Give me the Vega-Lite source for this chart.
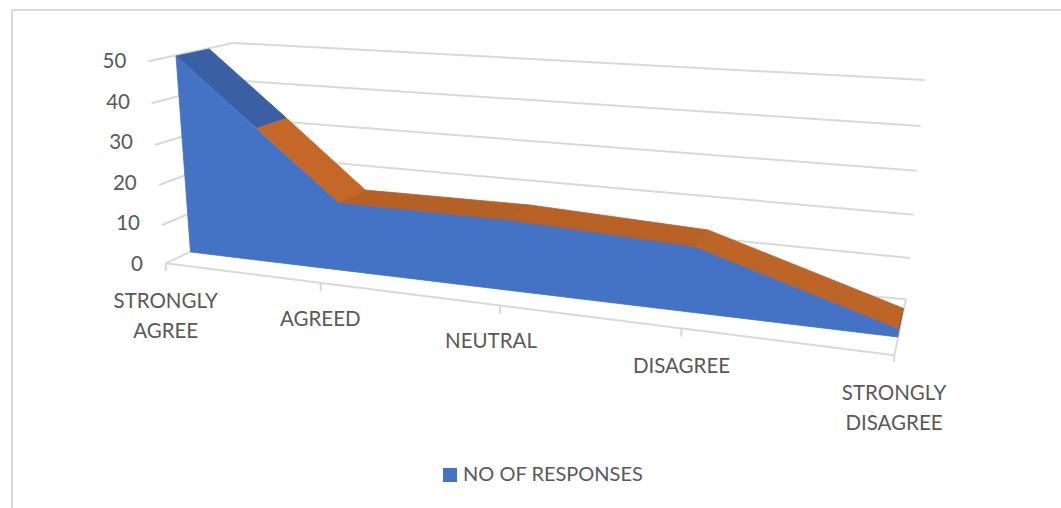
{
  "$schema": "https://vega.github.io/schema/vega-lite/v6.json",
  "width": 1061,
  "height": 508,
  "padding": 0,
  "autosize": "none",
  "background": "white",
  "config": {"view": {"stroke": null}, "text": {"font": "Lato"}},
  "datasets": {
    "frontFace": [
      {"series": "NO OF RESPONSES", "category": "STRONGLY AGREE", "step": 1, "across": 176, "up": 51.48},
      {"series": "NO OF RESPONSES", "category": "AGREED", "step": 2, "across": 338.7, "up": 15.2},
      {"series": "NO OF RESPONSES", "category": "NEUTRAL", "step": 3, "across": 510, "up": 10.91},
      {"series": "NO OF RESPONSES", "category": "DISAGREE", "step": 4, "across": 695, "up": 4.36},
      {"series": "NO OF RESPONSES", "category": "STRONGLY DISAGREE", "step": 5, "across": 898.7, "up": -15.84},
      {"series": "NO OF RESPONSES", "category": "floor right", "step": 6, "across": 897.5, "up": -17.73},
      {"series": "NO OF RESPONSES", "category": "floor left", "step": 7, "across": 190.5, "up": 3.2}
    ],
    "topFaces": [
      {"surface": "a", "step": 1, "across": 176, "up": 51.48},
      {"surface": "a", "step": 2, "across": 209.3, "up": 53.2},
      {"surface": "a", "step": 3, "across": 286.7, "up": 36.13},
      {"surface": "a", "step": 4, "across": 256.7, "up": 33.67},
      {"surface": "b", "step": 1, "across": 256.7, "up": 33.67},
      {"surface": "b", "step": 2, "across": 286.7, "up": 36.13},
      {"surface": "b", "step": 3, "across": 365.3, "up": 18.47},
      {"surface": "b", "step": 4, "across": 338.7, "up": 15.2},
      {"surface": "c", "step": 1, "across": 338.7, "up": 15.2},
      {"surface": "c", "step": 2, "across": 365.3, "up": 18.47},
      {"surface": "c", "step": 3, "across": 530, "up": 14.78},
      {"surface": "c", "step": 4, "across": 510, "up": 10.91},
      {"surface": "d", "step": 1, "across": 510, "up": 10.91},
      {"surface": "d", "step": 2, "across": 530, "up": 14.78},
      {"surface": "d", "step": 3, "across": 708.3, "up": 8.62},
      {"surface": "d", "step": 4, "across": 695, "up": 4.36},
      {"surface": "e", "step": 1, "across": 695, "up": 4.36},
      {"surface": "e", "step": 2, "across": 708.3, "up": 8.62},
      {"surface": "e", "step": 3, "across": 903.3, "up": -10.67},
      {"surface": "e", "step": 4, "across": 898.7, "up": -15.84},
      {"surface": "f", "step": 1, "across": 898.7, "up": -15.84},
      {"surface": "f", "step": 2, "across": 903.3, "up": -10.67},
      {"surface": "f", "step": 3, "across": 897.5, "up": -17.73}
    ],
    "gridLines": [
      {"name": "back 50", "a": 233, "b": 54.68, "a2": 925, "b2": 45.57},
      {"name": "back 40", "a": 236, "b": 45.44, "a2": 920.7, "b2": 34.24},
      {"name": "back 30", "a": 240, "b": 36.08, "a2": 917, "b2": 23.23},
      {"name": "back 20", "a": 245, "b": 27.09, "a2": 913.7, "b2": 12.39},
      {"name": "back 10", "a": 250, "b": 17.98, "a2": 910, "b2": 1.72},
      {"name": "back 0", "a": 250, "b": 6.16, "a2": 906, "b2": -8.45},
      {"name": "side 50", "a": 148.3, "b": 50.17, "a2": 233, "b2": 54.68},
      {"name": "side 40", "a": 151.7, "b": 39.83, "a2": 236, "b2": 45.44},
      {"name": "side 30", "a": 155, "b": 29.56, "a2": 240, "b2": 36.08},
      {"name": "side 20", "a": 159, "b": 19.7, "a2": 200, "b2": 23.45},
      {"name": "side 10", "a": 162, "b": 9.85, "a2": 200, "b2": 13.79},
      {"name": "side 0", "a": 165.7, "b": 0.42, "a2": 200, "b2": 4.36},
      {"name": "floor front", "a": 165.7, "b": 0.42, "a2": 894.3, "b2": -22.24},
      {"name": "floor right", "a": 906, "b": -8.45, "a2": 894.3, "b2": -22.24},
      {"name": "tick end", "a": 894.3, "b": -22.24, "a2": 894, "b2": -23.89},
      {"name": "tick 1", "a": 165.7, "b": 0.42, "a2": 165.7, "b2": -1.48},
      {"name": "tick 2", "a": 320.7, "b": -4.41, "a2": 320.7, "b2": -6.4},
      {"name": "tick 3", "a": 500, "b": -9.98, "a2": 500, "b2": -11.95},
      {"name": "tick 4", "a": 681.3, "b": -15.62, "a2": 681.3, "b2": -17.59},
      {"name": "frame left", "a": 12, "b": 62.81, "a2": 12, "b2": -59.85},
      {"name": "frame top", "a": 12, "b": 62.81, "a2": 1061, "b2": 62.81}
    ],
    "valueLabels": [
      {"tick": 50, "across": 126.3},
      {"tick": 40, "across": 130},
      {"tick": 30, "across": 133},
      {"tick": 20, "across": 136.7},
      {"tick": 10, "across": 140},
      {"tick": 0, "across": 143}
    ],
    "categoryLabels": [
      {"label": "STRONGLY", "across": 165.7, "up": -9.09},
      {"label": "AGREE", "across": 165.7, "up": -16.48},
      {"label": "AGREED", "across": 320.3, "up": -13.43},
      {"label": "NEUTRAL", "across": 491, "up": -19.02},
      {"label": "DISAGREE", "across": 681.5, "up": -25},
      {"label": "STRONGLY", "across": 894, "up": -31.75},
      {"label": "DISAGREE", "across": 894, "up": -39.04}
    ]
  },
  "encoding": {
    "x": {"type": "quantitative", "axis": null, "scale": {"domain": [0, 1061], "nice": false, "zero": false}},
    "y": {"type": "quantitative", "axis": null, "scale": {"domain": [-59.85, 65.27], "nice": false, "zero": false}}
  },
  "layer": [
    {
      "data": {"name": "gridLines"},
      "mark": {"type": "rule", "color": "#d9d9d9", "strokeWidth": 2},
      "encoding": {
        "x": {"field": "a", "type": "quantitative"},
        "y": {"field": "b", "type": "quantitative"},
        "x2": {"field": "a2"},
        "y2": {"field": "b2"}
      }
    },
    {
      "data": {"name": "topFaces"},
      "mark": {"type": "line", "filled": true, "interpolate": "linear-closed", "strokeWidth": 0.8},
      "encoding": {
        "x": {"field": "across", "type": "quantitative"},
        "y": {"field": "up", "type": "quantitative"},
        "order": {"field": "step"},
        "color": {
          "field": "surface",
          "type": "nominal",
          "legend": null,
          "scale": {
            "domain": ["a", "b", "c", "d", "e", "f"],
            "range": ["#3a5fa5", "#c56827", "#b56024", "#b76125", "#bd6526", "#7a6050"]
          }
        },
        "stroke": {
          "field": "surface",
          "type": "nominal",
          "legend": null,
          "scale": {
            "domain": ["a", "b", "c", "d", "e", "f"],
            "range": ["#3a5fa5", "#c56827", "#b56024", "#b76125", "#bd6526", "#7a6050"]
          }
        }
      }
    },
    {
      "data": {"name": "frontFace"},
      "mark": {"type": "line", "filled": true, "interpolate": "linear-closed", "stroke": "#4472c4", "strokeWidth": 0.8},
      "encoding": {
        "x": {"field": "across", "type": "quantitative"},
        "y": {"field": "up", "type": "quantitative"},
        "order": {"field": "step"},
        "color": {
          "field": "series",
          "type": "nominal",
          "scale": {"domain": ["NO OF RESPONSES"], "range": ["#4472c4"]},
          "legend": {
            "orient": "none",
            "legendX": 440,
            "legendY": 465,
            "title": null,
            "symbolType": "square",
            "symbolSize": 196,
            "symbolStrokeWidth": 0,
            "labelFont": "Lato",
            "labelFontSize": 20,
            "labelColor": "#595959",
            "labelOffset": 3,
            "labelLimit": 300
          }
        }
      }
    },
    {
      "data": {"name": "valueLabels"},
      "mark": {"type": "text", "align": "right", "baseline": "middle", "fontSize": 20.5, "color": "#595959"},
      "encoding": {
        "x": {"field": "across", "type": "quantitative"},
        "y": {"field": "tick", "type": "quantitative"},
        "text": {"field": "tick", "type": "quantitative"}
      }
    },
    {
      "data": {"name": "categoryLabels"},
      "mark": {"type": "text", "align": "center", "baseline": "middle", "fontSize": 20.5, "color": "#595959"},
      "encoding": {
        "x": {"field": "across", "type": "quantitative"},
        "y": {"field": "up", "type": "quantitative"},
        "text": {"field": "label", "type": "nominal"}
      }
    }
  ],
  "resolve": {"scale": {"color": "independent", "stroke": "independent"}, "legend": {"color": "independent", "stroke": "independent"}}
}
